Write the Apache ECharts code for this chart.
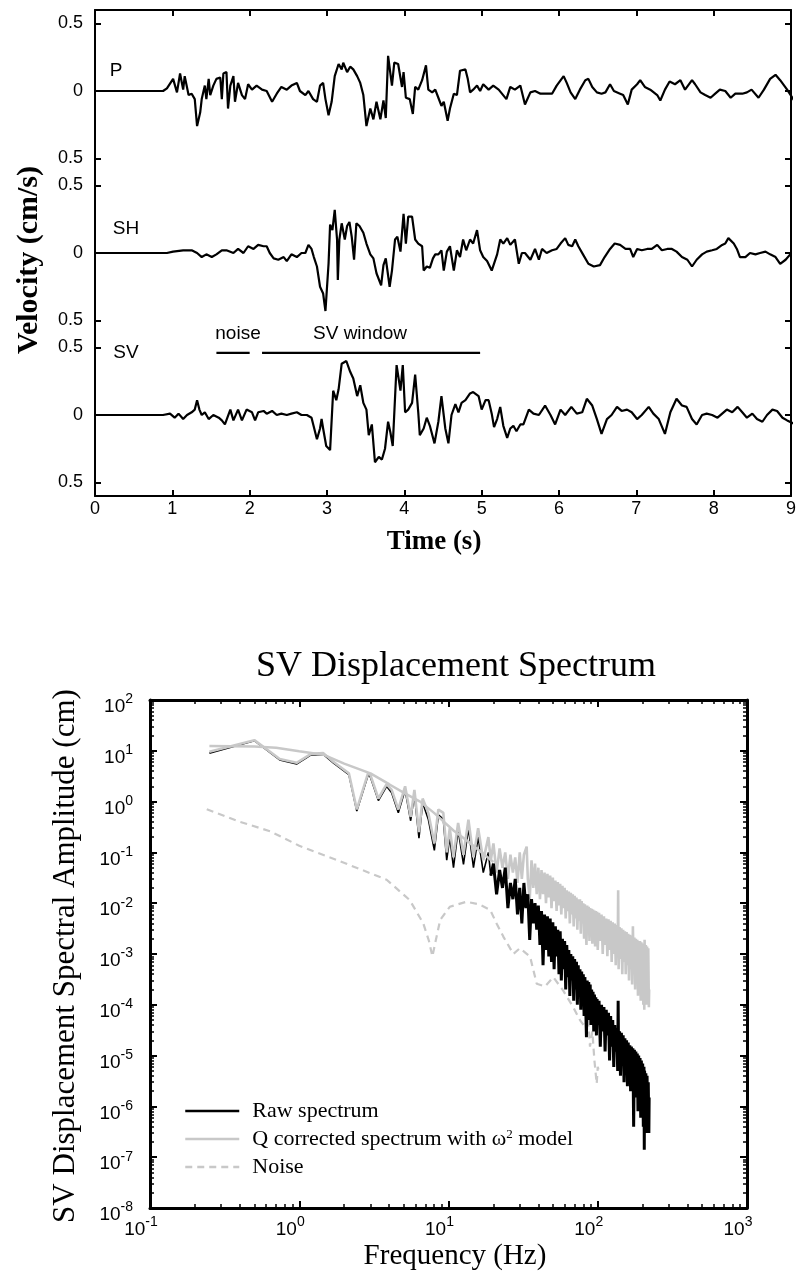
<!DOCTYPE html>
<html>
<head>
<meta charset="utf-8">
<script src="https://cdn.jsdelivr.net/npm/echarts@6.0.0/dist/echarts.min.js"></script>
<style>
html,body{margin:0;padding:0;background:#ffffff;}
#chart{width:799px;height:1278px;}
</style>
</head>
<body>
<div id="chart"></div>
<script>
// ---------------- Seismograms (time s, velocity cm/s) ----------------
const pTrace = [[0,0],[0.88,0],[0.93,0.02],[1.01,0.09],[1.06,-0.01],[1.10,0.13],[1.14,0.01],[1.16,0.11],[1.21,-0.03],[1.25,-0.02],[1.29,-0.06],[1.32,-0.26],[1.36,-0.16],[1.38,-0.06],[1.42,0.04],[1.44,-0.06],[1.47,0.09],[1.49,-0.03],[1.53,0.04],[1.57,0.09],[1.62,0.10],[1.64,-0.06],[1.66,0.13],[1.70,0.14],[1.72,-0.13],[1.75,0.04],[1.79,0.11],[1.81,-0.08],[1.85,0.06],[1.90,-0.03],[1.94,-0.06],[1.98,0.05],[2.03,0.01],[2.09,0.04],[2.16,0.01],[2.22,0.0],[2.29,-0.08],[2.35,-0.02],[2.41,0.03],[2.48,0.01],[2.54,0.04],[2.61,0.06],[2.65,0.0],[2.72,-0.03],[2.76,0.0],[2.82,-0.06],[2.87,-0.08],[2.91,0.04],[2.95,0.06],[2.98,-0.06],[3.02,-0.18],[3.06,-0.08],[3.10,0.11],[3.15,0.20],[3.19,0.16],[3.21,0.21],[3.26,0.14],[3.30,0.18],[3.34,0.16],[3.39,0.11],[3.43,0.06],[3.47,-0.03],[3.51,-0.26],[3.56,-0.13],[3.60,-0.21],[3.64,-0.08],[3.69,-0.21],[3.73,-0.07],[3.76,-0.20],[3.79,0.26],[3.84,0.04],[3.87,0.21],[3.92,0.20],[3.97,0.03],[3.99,0.14],[4.02,-0.05],[4.07,-0.06],[4.11,-0.17],[4.14,0.03],[4.18,0.01],[4.23,0.08],[4.28,0.19],[4.31,0.01],[4.36,-0.01],[4.40,0.01],[4.44,-0.05],[4.48,-0.11],[4.51,-0.08],[4.56,-0.22],[4.59,-0.13],[4.64,-0.02],[4.68,-0.03],[4.72,0.15],[4.79,0.16],[4.82,0.09],[4.85,-0.01],[4.89,0.01],[4.94,0.04],[4.98,0.0],[5.02,0.05],[5.09,0.01],[5.15,0.04],[5.22,0.01],[5.32,-0.06],[5.37,0.03],[5.43,0.01],[5.50,0.04],[5.56,-0.10],[5.63,-0.01],[5.69,0.0],[5.76,-0.02],[5.84,-0.02],[5.91,-0.02],[5.97,0.04],[6.06,0.11],[6.10,0.06],[6.15,-0.01],[6.21,-0.06],[6.27,0.01],[6.34,0.08],[6.38,0.09],[6.43,0.03],[6.49,-0.01],[6.55,-0.02],[6.60,-0.01],[6.66,0.05],[6.71,0.0],[6.79,-0.02],[6.83,-0.03],[6.89,-0.10],[6.94,0.01],[7.01,0.05],[7.05,0.08],[7.11,0.03],[7.18,0.01],[7.27,-0.03],[7.31,-0.07],[7.37,0.01],[7.43,0.07],[7.50,0.05],[7.57,0.08],[7.63,0.01],[7.72,0.08],[7.76,0.05],[7.83,-0.01],[7.89,-0.03],[7.96,-0.05],[8.02,-0.02],[8.08,0.01],[8.15,0.0],[8.22,-0.05],[8.28,-0.02],[8.37,-0.02],[8.43,-0.01],[8.49,0.01],[8.58,-0.05],[8.65,0.01],[8.73,0.09],[8.80,0.12],[8.86,0.08],[8.95,0.01],[9.04,-0.07]];

const shTrace = [[0,0],[0.93,0],[1.01,0.01],[1.14,0.02],[1.25,0.02],[1.32,0.0],[1.38,-0.03],[1.44,-0.01],[1.51,-0.03],[1.57,-0.01],[1.64,0.02],[1.70,0.02],[1.79,0.0],[1.85,0.03],[1.92,0.0],[1.98,0.05],[2.05,0.03],[2.11,0.06],[2.18,0.05],[2.22,0.05],[2.26,0.0],[2.31,-0.04],[2.37,-0.05],[2.44,-0.03],[2.48,-0.06],[2.54,-0.01],[2.61,-0.03],[2.67,0.0],[2.72,0.0],[2.76,0.06],[2.80,0.03],[2.83,-0.03],[2.87,-0.10],[2.91,-0.25],[2.95,-0.30],[2.98,-0.43],[3.02,-0.08],[3.04,0.21],[3.07,0.17],[3.10,0.32],[3.13,0.10],[3.14,-0.20],[3.16,0.10],[3.19,0.22],[3.23,0.10],[3.26,0.20],[3.29,0.23],[3.32,0.12],[3.35,-0.05],[3.38,0.22],[3.42,0.20],[3.47,0.15],[3.51,0.07],[3.56,-0.01],[3.60,-0.04],[3.64,-0.15],[3.70,-0.24],[3.73,-0.09],[3.76,-0.04],[3.81,-0.25],[3.84,-0.13],[3.88,0.10],[3.91,0.12],[3.95,0.01],[3.99,0.29],[4.02,0.07],[4.05,0.27],[4.10,0.27],[4.14,0.10],[4.18,0.07],[4.23,0.05],[4.25,-0.13],[4.29,-0.10],[4.33,-0.11],[4.37,-0.04],[4.40,-0.01],[4.44,-0.01],[4.48,0.02],[4.51,-0.13],[4.55,0.01],[4.59,0.05],[4.64,-0.13],[4.68,0.02],[4.72,-0.03],[4.76,0.10],[4.80,0.02],[4.85,0.10],[4.89,0.07],[4.94,0.17],[4.98,0.02],[5.02,-0.03],[5.07,-0.06],[5.13,-0.13],[5.20,-0.01],[5.24,0.10],[5.28,0.07],[5.33,0.11],[5.37,0.06],[5.43,0.10],[5.48,-0.08],[5.52,0.0],[5.56,0.0],[5.63,-0.05],[5.69,0.03],[5.74,-0.05],[5.78,0.03],[5.84,0.0],[5.91,0.02],[5.97,0.03],[6.02,0.07],[6.08,0.11],[6.12,0.06],[6.17,0.05],[6.21,0.10],[6.25,0.05],[6.31,-0.01],[6.38,-0.08],[6.45,-0.10],[6.53,-0.09],[6.59,-0.03],[6.66,0.03],[6.72,0.07],[6.79,0.06],[6.86,0.03],[6.92,0.03],[6.96,-0.03],[7.01,0.03],[7.07,0.02],[7.14,0.03],[7.20,0.03],[7.27,0.06],[7.33,0.02],[7.40,0.03],[7.46,0.03],[7.52,0.01],[7.59,-0.03],[7.66,-0.05],[7.72,-0.10],[7.78,-0.05],[7.85,-0.01],[7.91,0.01],[7.98,0.02],[8.04,0.03],[8.11,0.06],[8.15,0.07],[8.19,0.11],[8.26,0.07],[8.30,0.03],[8.34,-0.03],[8.41,-0.03],[8.47,0.0],[8.54,-0.01],[8.60,0.0],[8.67,0.01],[8.73,-0.01],[8.80,-0.03],[8.86,-0.08],[8.93,-0.05],[8.99,-0.01]];

const svTrace = [[0,0],[0.80,0],[0.88,0.0],[0.97,0.01],[1.03,-0.02],[1.08,0.01],[1.14,-0.03],[1.19,0.0],[1.25,0.02],[1.29,0.04],[1.32,0.11],[1.35,0.04],[1.38,0.0],[1.42,0.02],[1.47,-0.03],[1.53,0.0],[1.60,-0.02],[1.64,-0.04],[1.68,-0.07],[1.75,0.04],[1.79,-0.04],[1.85,0.04],[1.90,-0.04],[1.96,0.04],[2.03,0.02],[2.07,-0.04],[2.11,0.02],[2.18,0.03],[2.22,0.01],[2.29,0.03],[2.35,0.0],[2.41,0.01],[2.48,0.0],[2.54,0.01],[2.61,0.02],[2.67,0.0],[2.74,0.0],[2.80,-0.02],[2.87,-0.18],[2.91,-0.10],[2.93,-0.03],[2.95,-0.10],[2.99,-0.23],[3.04,-0.26],[3.08,0.18],[3.12,0.11],[3.15,0.19],[3.19,0.38],[3.25,0.40],[3.30,0.32],[3.34,0.27],[3.39,0.14],[3.43,0.22],[3.47,0.09],[3.51,0.04],[3.54,-0.15],[3.58,-0.07],[3.62,-0.35],[3.67,-0.31],[3.71,-0.33],[3.75,-0.25],[3.79,-0.05],[3.82,-0.13],[3.85,-0.23],[3.90,0.37],[3.95,0.18],[3.98,0.37],[4.01,0.02],[4.05,0.04],[4.10,0.09],[4.14,0.30],[4.18,0.02],[4.20,-0.15],[4.25,-0.10],[4.29,-0.02],[4.33,-0.08],[4.39,-0.21],[4.44,-0.05],[4.48,0.14],[4.53,-0.10],[4.57,-0.21],[4.61,0.0],[4.66,0.08],[4.70,0.02],[4.74,0.09],[4.79,0.11],[4.85,0.16],[4.89,0.17],[4.96,0.14],[5.00,0.04],[5.05,0.11],[5.09,0.11],[5.13,0.01],[5.16,-0.09],[5.20,-0.03],[5.24,0.06],[5.28,-0.08],[5.33,-0.17],[5.37,-0.10],[5.41,-0.08],[5.45,-0.12],[5.50,-0.07],[5.54,-0.07],[5.61,0.04],[5.67,0.01],[5.74,0.0],[5.82,0.07],[5.89,0.0],[5.95,-0.07],[6.02,0.04],[6.08,0.0],[6.16,0.06],[6.23,0.01],[6.30,0.02],[6.36,0.12],[6.43,0.07],[6.49,-0.03],[6.55,-0.14],[6.62,-0.03],[6.68,0.0],[6.75,0.06],[6.81,0.03],[6.88,0.04],[6.94,0.02],[7.01,-0.03],[7.07,0.0],[7.16,0.06],[7.22,0.01],[7.29,-0.03],[7.37,-0.14],[7.44,0.02],[7.52,0.12],[7.59,0.07],[7.65,0.06],[7.72,-0.03],[7.78,-0.07],[7.85,0.0],[7.91,0.01],[7.98,0.0],[8.05,-0.02],[8.11,0.01],[8.17,0.04],[8.24,0.02],[8.31,0.06],[8.37,0.02],[8.43,-0.02],[8.50,0.01],[8.56,-0.03],[8.63,-0.05],[8.69,0.0],[8.76,0.04],[8.82,0.03],[8.89,-0.02],[8.95,-0.04],[9.06,-0.07]];

const noiseWindow = [1.57, 2.0];
const svWindow = [2.16, 4.98];
const windowLevel = 0.46;
const velocityTicks = [-0.5, 0, 0.5];

// ---------------- Spectra (frequency Hz, amplitude cm) ----------------
const rawSpectrum = [[0.25,9.0],[0.5,15.8],[0.74,6.6],[0.96,5.5],[1.2,8.3],[1.45,8.5],[1.69,5.8],[2.15,3.4],[2.43,0.65],[2.9,3.4],[3.0,3.0],[3.39,1.05],[3.85,2.0],[4.16,1.5],[4.61,0.6],[5.12,1.7],[5.58,0.42],[5.91,1.4],[6.34,0.19],[6.71,0.95],[7.32,0.45],[8.04,0.11],[8.55,0.55],[9.23,0.45],[9.73,0.07],[10.2,0.2],[10.8,0.05],[11.6,0.28],[12.6,0.058],[13.6,0.3],[14.7,0.05],[15.8,0.2],[17.1,0.04],[18.5,0.1],[19.2,0.035],[20,0.06],[21,0.015],[22,0.045],[23,0.02],[24,0.05],[25,0.008],[26,0.025],[27,0.012],[28,0.03],[29,0.006],[30,0.02],[31,0.004],[32,0.025],[33,0.008],[34,0.015],[35,0.0019],[36,0.012],[37,0.004],[38,0.01],[39,0.003],
[40,0.009],[41,0.0015],[42,0.007],[43,0.0006],[44,0.006],[45,0.0012],[46,0.0055],[47,0.0009],[48,0.005],[49,0.0007],[50,0.0042],[51,0.0005],[52,0.0035],[53,0.0009],[54,0.003],[55,0.0004],[56,0.0028],[57,0.0003],[58,0.002],[59,0.0005],[60,0.0018],[61,0.0002],[62,0.0015],[63,0.00035],[64,0.0012],[65,0.00015],[66,0.001],[67,0.0003],[68,0.0009],[69,0.00012],[70,0.0008],[71,0.0002],[72,0.0007],[73,0.0001],[74,0.0006],[75,0.00015],[76,0.0005],[77,0.00008],[78,0.00045],[79,0.00012],[80,0.0004],[81,0.00006],[82,0.00035],[83,0.0001],[84,0.000023],[85,0.0003],[86,0.00005],[87,0.00028],[88,0.00008],[89,0.00025],[90,0.00004],[91,0.0002],[92,0.00006],[93,0.00018],[94,0.00003],[95,0.00016],[96,0.00005],[97,0.00014],[98,0.000025],[99,0.00013],[100,0.00004],
[102,0.00012],[104,0.000015],[106,0.0001],[108,0.00003],[110,0.00009],[112,0.000012],[114,0.00008],[116,0.000025],[118,0.00007],[120,0.000008],[122,0.00006],[124,0.000015],[126,0.00005],[128,0.000006],[130,0.00004],[132,0.000012],[134,0.000035],[136,0.000005],[137,0.00012],[138,0.000008],[140,0.00003],[142,0.000004],[144,0.000028],[146,0.000008],[148,0.000025],[150,0.000003],[152,0.000022],[154,0.000006],[156,0.00002],[158,0.0000025],[160,0.000018],[162,0.000005],[164,0.000016],[166,0.000002],[168,0.000015],[170,0.000004],[172,0.000014],[174,0.0000004],[176,0.000013],[178,0.000003],[180,0.000012],[182,0.0000015],[184,0.000011],[186,0.0000008],[188,0.00001],[190,0.000002],[192,0.000009],[194,0.0000006],[196,0.000008],[198,0.0000012],[200,0.000007],[202,0.0000004],[204,0.000006],[205,0.00000014],[206,0.000005],[208,0.0000008],[210,0.0000045],[212,0.0000003],[214,0.000004],[216,0.0000005],[218,0.000003],[220,0.0000003],[221,0.0000015]];

const qCorrectedSpectrum = [[0.25,9.6],[0.5,16.2],[0.74,6.9],[0.96,5.8],[1.2,8.7],[1.45,9.0],[1.69,6.1],[2.15,3.6],[2.43,0.7],[2.9,3.7],[3.0,3.3],[3.39,1.15],[3.85,2.2],[4.16,1.7],[4.61,0.7],[5.12,2.0],[5.58,0.5],[5.91,1.7],[6.34,0.25],[6.71,1.15],[7.32,0.6],[8.04,0.15],[8.55,0.7],[9.23,0.6],[9.73,0.1],[10.2,0.3],[10.8,0.08],[11.6,0.38],[12.6,0.09],[13.6,0.44],[14.7,0.08],[15.8,0.3],[17.1,0.07],[18.5,0.2],[19.2,0.07],[20,0.15],[21,0.04],[22,0.12],[23,0.05],[24,0.1],[25,0.03],[26,0.09],[27,0.04],[28,0.08],[29,0.025],[30,0.1],[31,0.03],[32,0.09],[33.4,0.13],[34,0.03],[35,0.012],[36,0.07],[37,0.02],[38,0.06],[39,0.015],
[40,0.05],[41,0.012],[42,0.045],[43,0.015],[44,0.04],[45,0.01],[46,0.038],[47,0.013],[48,0.035],[49,0.008],[50,0.032],[51,0.011],[52,0.028],[53,0.007],[54,0.026],[55,0.009],[56,0.024],[57,0.006],[58,0.022],[59,0.008],[60,0.02],[61,0.005],[62,0.018],[63,0.007],[64,0.017],[65,0.004],[66,0.016],[67,0.006],[68,0.015],[69,0.0035],[70,0.014],[71,0.005],[72,0.013],[73,0.003],[74,0.012],[75,0.0045],[76,0.012],[77,0.0025],[78,0.011],[79,0.004],[80,0.01],[81,0.002],[82,0.0095],[83,0.0035],[84,0.0015],[85,0.009],[86,0.003],[87,0.0085],[88,0.0018],[89,0.008],[90,0.0028],[91,0.0078],[92,0.0016],[93,0.0075],[94,0.0025],[95,0.0072],[96,0.0014],[97,0.007],[98,0.0022],[99,0.0068],[100,0.0012],
[102,0.0065],[104,0.0018],[106,0.006],[108,0.001],[110,0.0055],[112,0.0015],[114,0.005],[116,0.0009],[118,0.0048],[120,0.0012],[122,0.0045],[124,0.0007],[126,0.0042],[128,0.001],[130,0.004],[132,0.0006],[134,0.0037],[136,0.0009],[137,0.018],[138,0.0005],[140,0.0034],[142,0.0008],[144,0.0032],[146,0.0004],[148,0.003],[150,0.0007],[152,0.0028],[154,0.0004],[156,0.0027],[158,0.0006],[160,0.0025],[162,0.0003],[164,0.0024],[166,0.0005],[168,0.0023],[170,0.00025],[172,0.0035],[174,0.0004],[176,0.0021],[178,0.0002],[180,0.002],[182,0.00035],[184,0.0019],[186,0.00015],[188,0.0018],[190,0.0003],[192,0.0018],[194,0.00012],[196,0.0017],[198,0.00025],[200,0.0016],[202,0.0001],[204,0.0016],[205,0.00008],[206,0.0019],[208,0.0002],[210,0.0015],[212,0.0001],[214,0.0014],[216,0.00015],[218,0.0013],[220,0.00009],[221,0.0002]];

const omega2Model = [[0.25,12.4],[0.5,12.2],[0.7,11.5],[1.0,9.8],[1.45,8.4],[2.0,5.6],[3.0,3.6],[4.0,2.2],[5.0,1.5],[6.45,1.0],[8.0,0.6],[10.8,0.27],[13,0.18],[16,0.11],[20,0.065]];

const noiseSpectrum = [[0.24,0.71],[0.4,0.4],[0.64,0.26],[1.0,0.135],[1.78,0.071],[2.5,0.048],[3.85,0.029],[5.5,0.0115],[6.78,0.004],[7.4,0.0018],[7.8,0.0009],[8.2,0.0018],[8.8,0.0047],[10.2,0.0085],[13.2,0.0107],[16,0.0095],[19,0.0074],[21,0.004],[23.3,0.0022],[27.2,0.001],[30.1,0.0013],[35.2,0.00089],[39,0.00026],[44.4,0.00023],[50.4,0.00035],[58.7,0.00019],[68.5,0.00009],[76,0.00005],[82,0.000037],[86,0.00006],[88.7,0.000015],[92,0.00003],[95,0.000008],[98.4,0.0000028],[100,0.000006],[101,0.0000053]];

const freqDecadeRange = [-1, 3];
const ampDecadeRange = [-8, 2];
const minorMultipliers = [2, 3, 4, 5, 6, 7, 8, 9];
const denseFromHz = 19;   // above this frequency the raw spectrum is drawn as a dense band

const SER_RAW = 'Raw spectrum';
const SER_Q = 'Q corrected spectrum with \u03c9 2 model';
const SER_NOISE = 'Noise';

// ---------------- styling helpers ----------------
const SANS = '"Liberation Sans", Arial, Helvetica, sans-serif';
const SERIF = '"Liberation Serif", "Times New Roman", serif';
const BLACK = '#000000';
const GRAY = '#c8c8c8';

function minorList(range) {
  const out = [];
  for (let k = range[0]; k < range[1]; k++) {
    minorMultipliers.forEach(m => out.push(k + Math.log10(m)));
  }
  return out;
}
const minorX = minorList(freqDecadeRange);
const minorY = minorList(ampDecadeRange);

const powRich = {
  b: { fontFamily: SANS, fontSize: 19, color: BLACK, lineHeight: 24, verticalAlign: 'bottom' },
  e: { fontFamily: SANS, fontSize: 14, color: BLACK, lineHeight: 24, verticalAlign: 'top' }
};
const powFmt = v => '{b|10}{e|' + Math.round(v) + '}';

function seisY(grid, pos, withLabels) {
  return {
    type: 'value', gridIndex: grid, position: pos, min: -0.6, max: 0.6,
    axisLine: { show: true, onZero: false, lineStyle: { color: BLACK, width: 2 } },
    axisTick: { show: true, inside: true, length: 6, customValues: velocityTicks, lineStyle: { color: BLACK, width: 2 } },
    axisLabel: { show: withLabels, customValues: velocityTicks, formatter: v => String(Math.abs(v)), margin: 12,
                 fontFamily: SANS, fontSize: 18, color: BLACK },
    splitLine: { show: false }
  };
}
function seisXHidden(grid) {
  return { type: 'value', gridIndex: grid, min: 0, max: 9, position: 'bottom', show: false };
}
function specX(pos, major, labels) {
  return {
    type: 'value', gridIndex: 3, position: pos, min: freqDecadeRange[0], max: freqDecadeRange[1], interval: 1,
    axisLine: { show: major, onZero: false, lineStyle: { color: BLACK, width: 3 } },
    axisTick: major ? { show: true, inside: true, length: 7, lineStyle: { color: BLACK, width: 2 } }
                    : { show: true, inside: true, length: 4, customValues: minorX, lineStyle: { color: BLACK, width: 1.5 } },
    axisLabel: labels ? { show: true, formatter: powFmt, rich: powRich, margin: 7, padding: [0, 18, 0, 0] } : { show: false },
    splitLine: { show: false }
  };
}
function specY(pos, major, labels) {
  return {
    type: 'value', gridIndex: 3, position: pos, min: ampDecadeRange[0], max: ampDecadeRange[1], interval: 1,
    axisLine: { show: major, onZero: false, lineStyle: { color: BLACK, width: 3 } },
    axisTick: major ? { show: true, inside: true, length: 7, lineStyle: { color: BLACK, width: 2 } }
                    : { show: true, inside: true, length: 4, customValues: minorY, lineStyle: { color: BLACK, width: 1.5 } },
    axisLabel: labels ? { show: true, formatter: powFmt, rich: powRich, margin: 17, padding: [9, 0, 0, 0] } : { show: false },
    splitLine: { show: false }
  };
}
function trace(data, xi, yi) {
  return { type: 'line', xAxisIndex: xi, yAxisIndex: yi, data: data, symbol: 'none', showSymbol: false,
           lineStyle: { color: BLACK, width: 2.2 }, itemStyle: { color: BLACK }, silent: true };
}
function specLine(name, data, color, width, z, type) {
  return { name: name, type: 'line', xAxisIndex: 4, yAxisIndex: 6, data: data, symbol: 'none', showSymbol: false,
           z: z, lineStyle: { color: color, width: width, type: type || 'solid' }, itemStyle: { color: color }, silent: true };
}
function label(text, x, y, font, rot) {
  return { type: 'text', x: x, y: y, rotation: rot || 0,
           style: { text: text, font: font, fill: BLACK, align: 'center', verticalAlign: 'middle' } };
}

const rawLow = rawSpectrum.filter(d => d[0] <= denseFromHz + 0.5);
const rawHigh = rawSpectrum.filter(d => d[0] >= denseFromHz);

const option = {
  animation: false,
  backgroundColor: '#ffffff',
  grid: [
    { left: 95, right: 8, top: 10, height: 162 },
    { left: 95, right: 8, top: 172, height: 162 },
    { left: 95, right: 8, top: 334, height: 162 },
    { left: 150, right: 52, top: 700, height: 508 }
  ],
  xAxis: [
    seisXHidden(0),
    seisXHidden(1),
    { type: 'value', gridIndex: 2, min: 0, max: 9, interval: 1, position: 'bottom',
      axisLine: { onZero: false, lineStyle: { color: BLACK, width: 2 } },
      axisTick: { inside: true, length: 6, lineStyle: { color: BLACK, width: 2 } },
      axisLabel: { margin: 4, fontFamily: SANS, fontSize: 18, color: BLACK },
      splitLine: { show: false } },
    { type: 'value', gridIndex: 0, min: 0, max: 9, interval: 1, position: 'top',
      axisLine: { onZero: false, lineStyle: { color: BLACK, width: 2 } },
      axisTick: { inside: true, length: 6, lineStyle: { color: BLACK, width: 2 } },
      axisLabel: { show: false }, splitLine: { show: false } },
    { type: 'log', logBase: 10, gridIndex: 3, min: 0.1, max: 1000, position: 'bottom', show: false },
    specX('bottom', true, true),
    specX('bottom', false, false),
    specX('top', true, false),
    specX('top', false, false)
  ],
  yAxis: [
    seisY(0, 'left', true),
    seisY(1, 'left', true),
    seisY(2, 'left', true),
    seisY(0, 'right', false),
    seisY(1, 'right', false),
    seisY(2, 'right', false),
    { type: 'log', logBase: 10, gridIndex: 3, min: 1e-8, max: 100, position: 'left', show: false },
    specY('left', true, true),
    specY('left', false, false),
    specY('right', true, false),
    specY('right', false, false)
  ],
  legend: {
    data: [SER_RAW, SER_Q, SER_NOISE],
    orient: 'vertical', left: 184, top: 1100, padding: 0, itemWidth: 54, itemHeight: 12, itemGap: 6,
    lineStyle: { width: 2.5 },
    itemStyle: { opacity: 0 },
    selectedMode: false,
    formatter: function (name) {
      if (name === SER_Q) return '{g|}{n|Q corrected spectrum with \u03c9}{s|2}{n| model}';
      return '{g|}{n|' + name + '}';
    },
    textStyle: {
      fontFamily: SERIF, fontSize: 22, color: BLACK,
      rich: {
        g: { width: 8 },
        n: { fontFamily: SERIF, fontSize: 22, color: BLACK, lineHeight: 22, verticalAlign: 'bottom' },
        s: { fontFamily: SERIF, fontSize: 13, color: BLACK, lineHeight: 22, verticalAlign: 'top' }
      }
    }
  },
  graphic: [
    label('P', 116, 71, '19px ' + SANS),
    label('SH', 126, 229, '19px ' + SANS),
    label('SV', 126, 353, '19px ' + SANS),
    label('noise', 238, 334, '19px ' + SANS),
    label('SV window', 360, 334, '19px ' + SANS),
    label('Velocity (cm/s)', 29, 260, 'bold 30px ' + SERIF, Math.PI / 2),
    label('Time (s)', 434, 542, 'bold 27px ' + SERIF),
    label('SV Displacement Spectrum', 456, 667, '36px ' + SERIF),
    label('SV Displacement Spectral Amplitude (cm)', 66, 956, '31px ' + SERIF, Math.PI / 2),
    label('Frequency (Hz)', 455, 1256, '29px ' + SERIF)
  ],
  series: [
    trace(pTrace, 0, 0),
    trace(shTrace, 1, 1),
    trace(svTrace, 2, 2),
    trace([[noiseWindow[0], windowLevel], [noiseWindow[1], windowLevel]], 2, 2),
    trace([[svWindow[0], windowLevel], [svWindow[1], windowLevel]], 2, 2),
    specLine(SER_NOISE, noiseSpectrum, GRAY, 2.2, 1, [7, 5]),
    specLine(SER_RAW, rawLow, BLACK, 1.6, 2),
    specLine(SER_Q, qCorrectedSpectrum, GRAY, 2.6, 3),
    specLine(SER_RAW, rawHigh, BLACK, 3, 4),
    specLine(SER_Q, omega2Model, GRAY, 2.5, 5)
  ]
};

const chart = echarts.init(document.getElementById('chart'), null, { renderer: 'canvas' });
chart.setOption(option);
</script>
</body>
</html>
